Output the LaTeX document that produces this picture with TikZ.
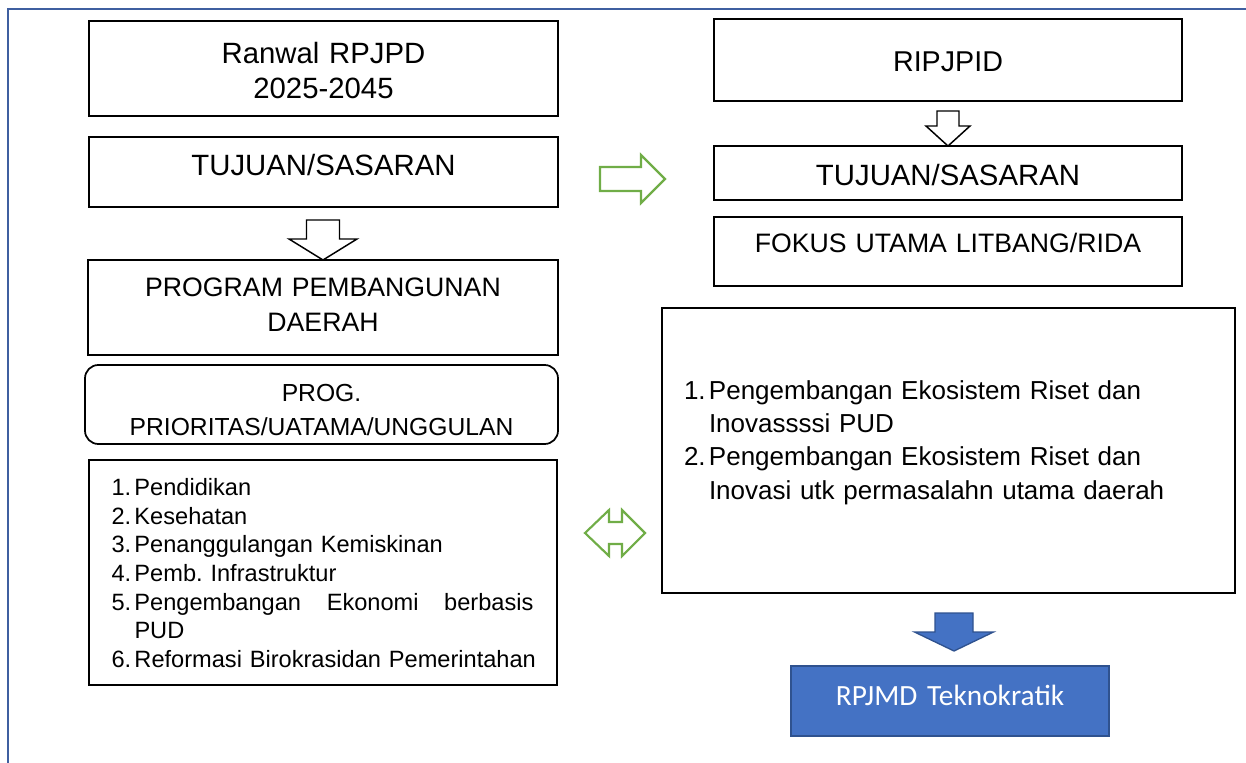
\documentclass[tikz,border=0pt]{standalone}
\usepackage{fontspec}
\setmainfont{Liberation Sans}
\newfontfamily\calibri{Carlito}
\usetikzlibrary{calc}
\newlength\pxu
\setlength\pxu{0.75pt}
\newcommand\numbox[2][23]{\makebox[#1\pxu][l]{#2.}}
\definecolor{frameblue}{HTML}{3F5FA0}
\definecolor{arrowgreen}{HTML}{70AD47}
\definecolor{boxblue}{HTML}{4472C4}
\definecolor{boxblueline}{HTML}{2F528F}
\begin{document}
\begin{tikzpicture}[x=0.75pt,y=-0.75pt,line join=miter,
  box/.style={draw,line width=1.3pt,inner sep=0pt,outer sep=0pt,anchor=north west,align=center},
  dims/.style n args={3}{text width=#1\pxu,text height=#2\pxu,text depth=#3\pxu},
  hollow/.style={draw,line width=1.1pt,fill=white},
  greenarrow/.style={draw=arrowgreen,line width=1.6pt,fill=white},
  bluearrow/.style={draw=boxblueline,line width=1pt,fill=boxblue}]
\useasboundingbox (0,0) rectangle (1246,763);
\draw[frameblue,line width=2pt] (8,763) -- (8,9) -- (1246,9);
% left column
\node[box,dims={469}{42.5}{52.5},font=\fontsize{22pt}{26.25pt}\selectfont] (ranwal) at (89,21) {Ranwal RPJPD\\2025-2045};
\node[box,dims={469}{38.5}{31.5},font=\fontsize{22pt}{26.25pt}\selectfont] (tujL) at (89,137) {TUJUAN/SASARAN};
\node[box,dims={470}{36.5}{58.5},font=\fontsize{20pt}{26.25pt}\selectfont] (prog) at (88,260) {PROGRAM PEMBANGUNAN\\DAERAH};
\node[box,dims={473}{36}{43},rounded corners=10pt,font=\fontsize{18.5pt}{25.5pt}\selectfont] (prio) at (85,365) {PROG.\\PRIORITAS/UATAMA/UNGGULAN};
\node[box,dims={423}{35.6}{189.4},inner xsep=22.5\pxu,align=left,font=\fontsize{17.7pt}{21.45pt}\selectfont] (bidang) at (89,460)
  {\numbox{1}Pendidikan\\
   \numbox{2}Kesehatan\\
   \numbox{3}Penanggulangan Kemiskinan\\
   \numbox{4}Pemb.\ Infrastruktur\\
   \numbox{5}\makebox[399\pxu][l]{Pengembangan\hfill Ekonomi\hfill berbasis}\\
   \hspace*{23\pxu}PUD\\
   \numbox{6}\mbox{Reformasi Birokrasidan Pemerintahan}};
% right column
\node[box,dims={468}{53}{29},font=\fontsize{21.5pt}{26.25pt}\selectfont] (ripjpid) at (714,19) {RIPJPID};
\node[box,dims={468}{39.5}{14.5},font=\fontsize{22pt}{26.25pt}\selectfont] (tujR) at (714,146) {TUJUAN/SASARAN};
\node[box,dims={468}{35.5}{33.5},font=\fontsize{20pt}{26.25pt}\selectfont] (fokus) at (714,217) {FOKUS UTAMA LITBANG/RIDA};
\node[box,dims={529}{91.3}{193.7},inner xsep=22\pxu,align=left,font=\fontsize{19.5pt}{25pt}\selectfont] (riset) at (662,308)
  {\numbox[25]{1}Pengembangan Ekosistem Riset dan\\
   \hspace*{25\pxu}Inovassssi PUD\\
   \numbox[25]{2}Pengembangan Ekosistem Riset dan\\
   \hspace*{25\pxu}Inovasi utk permasalahn utama daerah};
\node[box,dims={318}{39}{31},draw=boxblueline,line width=1.5pt,fill=boxblue,text=white,font=\calibri\fontsize{22pt}{26pt}\selectfont] (rpjmd) at (791,666) {RPJMD Teknokratik};
% block arrows
\draw[hollow] (prog.north) -- ++(-34,-21) -- ++(17.5,0) -- ++(0,-19) -- ++(33,0) -- ++(0,19) -- ++(17.5,0) -- cycle;
\draw[hollow] (tujR.north) -- ++(-22,-20) -- ++(11,0) -- ++(0,-15) -- ++(22,0) -- ++(0,15) -- ++(11,0) -- cycle;
\draw[bluearrow] ($(rpjmd.north)+(4,-15)$) -- ++(-39.5,-19) -- ++(20.5,0) -- ++(0,-19) -- ++(38,0) -- ++(0,19) -- ++(20.5,0) -- cycle;
\draw[greenarrow] (600,167) -- (641,167) -- (641,155) -- (665,179) -- (641,203) -- (641,191) -- (600,191) -- cycle;
\draw[greenarrow] (585,533) -- (609,510) -- (609,522) -- (622,522) -- (622,510) -- (645,533) -- (622,556) -- (622,544) -- (609,544) -- (609,556) -- cycle;
\end{tikzpicture}
\end{document}
